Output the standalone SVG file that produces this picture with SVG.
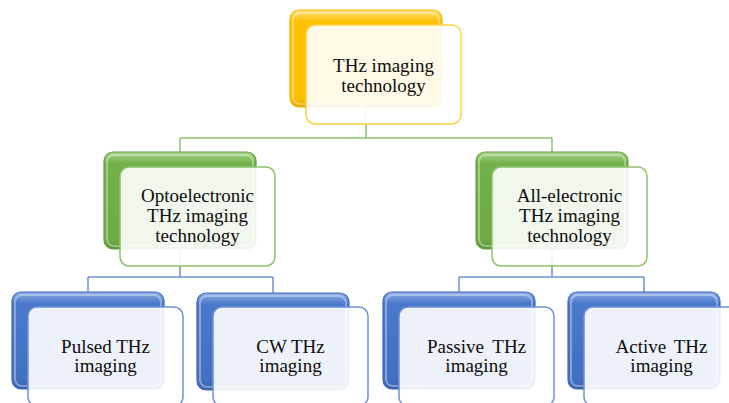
<svg xmlns="http://www.w3.org/2000/svg" width="729" height="403" viewBox="0 0 729 403">
<defs>
<linearGradient id="gGold" x1="0" y1="0" x2="0" y2="1">
<stop offset="0" stop-color="#FFE27A"/><stop offset="0.12" stop-color="#FFC000"/><stop offset="0.9" stop-color="#FFBE00"/><stop offset="1" stop-color="#E8A800"/>
</linearGradient>
<linearGradient id="gGreen" x1="0" y1="0" x2="0" y2="1">
<stop offset="0" stop-color="#A8D68A"/><stop offset="0.12" stop-color="#72B04A"/><stop offset="0.9" stop-color="#6EAA45"/><stop offset="1" stop-color="#5C9638"/>
</linearGradient>
<linearGradient id="gBlue" x1="0" y1="0" x2="0" y2="1">
<stop offset="0" stop-color="#8FAEE6"/><stop offset="0.12" stop-color="#4A78CA"/><stop offset="0.9" stop-color="#4470C2"/><stop offset="1" stop-color="#3A60AA"/>
</linearGradient>
</defs>
<style>
.back{stroke-width:1.2}
.gold .back{fill:url(#gGold);stroke:#F2B600}
.green .back{fill:url(#gGreen);stroke:#66A040}
.blue .back{fill:url(#gBlue);stroke:#3E68B6}
.hl{fill:none;stroke:#FFFFFF;stroke-opacity:0.35;stroke-width:2}
.front{fill:#FFFFFF;fill-opacity:0.9;stroke-width:1.5}
.gold .front{stroke:#FFD243}
.green .front{stroke:#8DC36A}
.blue .front{stroke:#6D91D4}
.t{font-family:'Liberation Serif','Noto Serif','DejaVu Serif',serif;font-size:19px;fill:#0D0D0D;text-anchor:middle}
.cg{fill:none;stroke:#8DC36A;stroke-width:1.5}
.cb{fill:none;stroke:#6D91D4;stroke-width:1.5}
</style>
<g id="connectors">
<path class="cg" d="M366,107 V138 M180,138 H552 M180,138 V152 M552,138 V153"/>
<path class="cb" d="M180,249 V277 M88,277 H273 M88,277 V292 M273,277 V293"/>
<path class="cb" d="M552,249 V277 M459,277 H644 M459,277 V292 M644,277 V292"/>
</g>
<g id="n-root" class="gold">
<rect class="back" x="290" y="10" width="152" height="97" rx="9"/>
<rect class="hl" x="293" y="13" width="146" height="91" rx="7"/>
<rect class="front" x="306" y="25" width="155" height="99" rx="9"/>
<text class="t" x="383.5" y="72">THz imaging</text>
<text class="t" x="383.5" y="91.5">technology</text>
</g>
<g id="n-opto" class="green">
<rect class="back" x="104" y="152" width="152" height="97" rx="9"/>
<rect class="hl" x="107" y="155" width="146" height="91" rx="7"/>
<rect class="front" x="120" y="167" width="155" height="99" rx="9"/>
<text class="t" x="197.5" y="202">Optoelectronic</text>
<text class="t" x="197.5" y="222">THz imaging</text>
<text class="t" x="197.5" y="242">technology</text>
</g>
<g id="n-alle" class="green">
<rect class="back" x="476" y="152" width="152" height="97" rx="9"/>
<rect class="hl" x="479" y="155" width="146" height="91" rx="7"/>
<rect class="front" x="492" y="167" width="155" height="99" rx="9"/>
<text class="t" x="569.5" y="202">All-electronic</text>
<text class="t" x="569.5" y="222">THz imaging</text>
<text class="t" x="569.5" y="242">technology</text>
</g>
<g id="n-pulsed" class="blue">
<rect class="back" x="12" y="292" width="152" height="97" rx="9"/>
<rect class="hl" x="15" y="295" width="146" height="91" rx="7"/>
<rect class="front" x="28" y="307" width="155" height="99" rx="9"/>
<text class="t" x="105.5" y="352.5">Pulsed THz</text>
<text class="t" x="105.5" y="372">imaging</text>
</g>
<g id="n-cw" class="blue">
<rect class="back" x="197" y="293" width="152" height="97" rx="9"/>
<rect class="hl" x="200" y="296" width="146" height="91" rx="7"/>
<rect class="front" x="213" y="307" width="155" height="99" rx="9"/>
<text class="t" x="290.5" y="352.5">CW THz</text>
<text class="t" x="290.5" y="372">imaging</text>
</g>
<g id="n-passive" class="blue">
<rect class="back" x="383" y="292" width="152" height="97" rx="9"/>
<rect class="hl" x="386" y="295" width="146" height="91" rx="7"/>
<rect class="front" x="399" y="307" width="155" height="99" rx="9"/>
<text class="t" x="476.5" y="352.5" word-spacing="4">Passive THz</text>
<text class="t" x="476.5" y="372">imaging</text>
</g>
<g id="n-active" class="blue">
<rect class="back" x="568" y="292" width="152" height="97" rx="9"/>
<rect class="hl" x="571" y="295" width="146" height="91" rx="7"/>
<rect class="front" x="584" y="307" width="155" height="99" rx="9"/>
<text class="t" x="661.5" y="352.5" word-spacing="3">Active THz</text>
<text class="t" x="661.5" y="372">imaging</text>
</g>
</svg>
